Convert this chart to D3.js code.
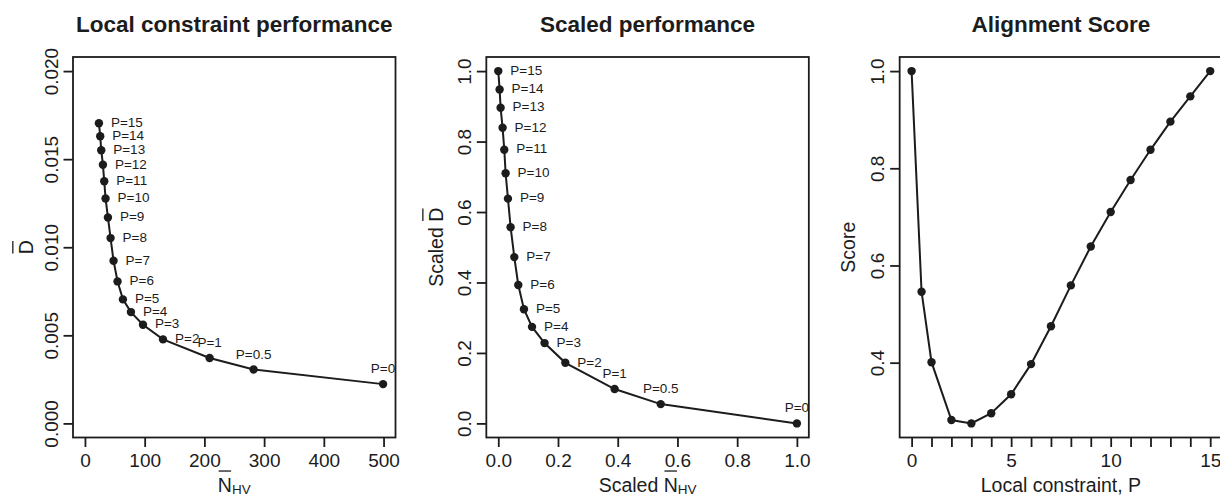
<!DOCTYPE html>
<html>
<head>
<meta charset="utf-8">
<script src="https://cdn.jsdelivr.net/npm/d3@7"></script>
<style>
  body { margin: 0; background: #fff; }
  svg { display: block; }
</style>
</head>
<body>
<svg id="chart" width="1220" height="496"></svg>
<script>
// point labels, in the order the points are drawn on the first two panels
const pLabels = ["P=15", "P=14", "P=13", "P=12", "P=11", "P=10", "P=9", "P=8", "P=7",
  "P=6", "P=5", "P=4", "P=3", "P=2", "P=1", "P=0.5", "P=0"];
const labelsAbove = ["P=1", "P=0.5", "P=0"];

// panel 1: raw values
const nhv = [23.4, 25.6, 27.3, 30.1, 32.3, 34.5, 38.5, 42.9, 47.9, 54.6, 63.6, 77.0, 97.2, 130.7, 208.7, 282.4, 499.2];
const dbar = [0.01704, 0.0163, 0.01551, 0.01468, 0.01375, 0.01277, 0.01169, 0.01052, 0.00923,
  0.00806, 0.00704, 0.00632, 0.0056, 0.00477, 0.00371, 0.00306, 0.00223];

// panel 2: scaled values
const scaledN = [0.0, 0.0045, 0.0078, 0.0145, 0.0201, 0.0246, 0.0324, 0.0413, 0.0537,
  0.067, 0.086, 0.113, 0.155, 0.2246, 0.3896, 0.544, 1.0];
const scaledD = [1.0, 0.948, 0.896, 0.839, 0.777, 0.710, 0.638, 0.557, 0.472,
  0.393, 0.324, 0.274, 0.228, 0.172, 0.0975, 0.0548, 0.0];

// panel 3: alignment score against P
const scoreP = [0, 0.5, 1, 2, 3, 4, 5, 6, 7, 8, 9, 10, 11, 12, 13, 14, 15];
const score = [1.0, 0.546, 0.401, 0.282, 0.275, 0.296, 0.335, 0.397, 0.475,
  0.559, 0.639, 0.710, 0.776, 0.838, 0.896, 0.948, 1.0];

// ticks
const x1Ticks = [0, 100, 200, 300, 400, 500];
const x1TickLabels = ["0", "100", "200", "300", "400", "500"];
const y1Ticks = [0, 0.005, 0.010, 0.015, 0.020];
const y1TickLabels = ["0.000", "0.005", "0.010", "0.015", "0.020"];
const x2Ticks = [0, 0.2, 0.4, 0.6, 0.8, 1.0];
const x2TickLabels = ["0.0", "0.2", "0.4", "0.6", "0.8", "1.0"];
const y2Ticks = [0, 0.2, 0.4, 0.6, 0.8, 1.0];
const y2TickLabels = ["0.0", "0.2", "0.4", "0.6", "0.8", "1.0"];
const x3Ticks = [0, 1, 2, 3, 4, 5, 6, 7, 8, 9, 10, 11, 12, 13, 14, 15];
const x3TickLabels = ["0", "", "", "", "", "5", "", "", "", "", "10", "", "", "", "", "15"];
const y3Ticks = [0.4, 0.6, 0.8, 1.0];
const y3TickLabels = ["0.4", "0.6", "0.8", "1.0"];

const font = '"Liberation Sans", Arial, Helvetica, sans-serif';
const ink = '#1c1c1c';
const tickSize = 19;
const labelSize = 19.5;

let box = { left: 73, right: 395.5, top: 57, bottom: 437.5 };
const panelStep = 413.33;

let svg = d3.select('#chart')
  .attr('font-family', font);

// R style axis limits: 4% padding on each side
function rLimits(lo, hi) {
  let pad = (hi - lo) * 0.04;
  return [lo - pad, hi + pad];
}

// axis title, with an optional bar over one letter and a subscript
function mathLabel(parent, x, y, angle, prefix, letter, sub) {
  let g = parent.append('g')
    .attr('transform', 'translate(' + x + ',' + y + ') rotate(' + angle + ')');
  let t = g.append('text')
    .attr('text-anchor', 'middle')
    .attr('font-size', labelSize)
    .attr('fill', ink);
  t.append('tspan').text(prefix + (letter || ''));
  if (sub) {
    t.append('tspan').attr('font-size', 13.5).attr('dy', 2).text(sub);
  }
  if (letter) {
    let ext = t.node().getExtentOfChar(prefix.length);
    let yBar = -labelSize * 0.716 - 6.5;
    g.append('line')
      .attr('x1', ext.x + 0.8)
      .attr('x2', ext.x + ext.width - 0.8)
      .attr('y1', yBar)
      .attr('y2', yBar)
      .attr('stroke', ink)
      .attr('stroke-width', 1.3);
  }
}

function drawPanel(i, spec) {
  let g = svg.append('g')
    .attr('transform', 'translate(' + (i * panelStep) + ',0)');

  let x = d3.scaleLinear().domain(spec.xLim).range([box.left, box.right]);
  let y = d3.scaleLinear().domain(spec.yLim).range([box.bottom, box.top]);

  g.append('defs').append('clipPath')
    .attr('id', 'clip' + i)
    .append('rect')
    .attr('x', box.left)
    .attr('y', box.top)
    .attr('width', box.right - box.left)
    .attr('height', box.bottom - box.top);

  // title
  g.append('text')
    .attr('x', (box.left + box.right) / 2)
    .attr('y', 31.7)
    .attr('text-anchor', 'middle')
    .attr('font-size', 22.5)
    .attr('font-weight', 'bold')
    .attr('fill', ink)
    .text(spec.title);

  // axes
  let xAxis = g.append('g')
    .attr('transform', 'translate(0,' + box.bottom + ')')
    .call(d3.axisBottom(x)
      .tickValues(spec.xTicks)
      .tickFormat(function (d, k) { return spec.xTickLabels[k]; })
      .tickSize(9.5)
      .tickPadding(7));

  let yAxis = g.append('g')
    .attr('transform', 'translate(' + box.left + ',0)')
    .call(d3.axisLeft(y)
      .tickValues(spec.yTicks)
      .tickFormat(function (d, k) { return spec.yTickLabels[k]; })
      .tickSize(9.5));

  [xAxis, yAxis].forEach(function (a) {
    a.attr('font-family', font).attr('font-size', tickSize);
    a.select('.domain').remove();
    a.selectAll('.tick line').attr('stroke', ink).attr('stroke-width', 1.8);
    a.selectAll('.tick text').attr('fill', ink);
  });

  yAxis.selectAll('.tick text')
    .attr('transform', 'rotate(-90)')
    .attr('x', 0)
    .attr('y', -15.5)
    .attr('dy', 0)
    .attr('text-anchor', 'middle');

  // plot box
  g.append('rect')
    .attr('x', box.left)
    .attr('y', box.top)
    .attr('width', box.right - box.left)
    .attr('height', box.bottom - box.top)
    .attr('fill', 'none')
    .attr('stroke', ink)
    .attr('stroke-width', 1.8);

  let pts = spec.xs.map(function (v, k) {
    return { x: v, y: spec.ys[k], label: spec.labels ? spec.labels[k] : null };
  });

  g.append('path')
    .datum(pts)
    .attr('fill', 'none')
    .attr('stroke', ink)
    .attr('stroke-width', 2)
    .attr('d', d3.line()
      .x(function (d) { return x(d.x); })
      .y(function (d) { return y(d.y); }));

  g.append('g')
    .selectAll('circle')
    .data(pts)
    .enter()
    .append('circle')
    .attr('cx', function (d) { return x(d.x); })
    .attr('cy', function (d) { return y(d.y); })
    .attr('r', 4.2)
    .attr('fill', ink);

  if (spec.labels) {
    g.append('g')
      .attr('clip-path', 'url(#clip' + i + ')')
      .selectAll('text')
      .data(pts)
      .enter()
      .append('text')
      .attr('font-size', 13.5)
      .attr('fill', ink)
      .each(function (d) {
        let t = d3.select(this);
        if (labelsAbove.indexOf(d.label) >= 0) {
          t.attr('x', x(d.x)).attr('y', y(d.y) - 11).attr('text-anchor', 'middle');
        } else {
          t.attr('x', x(d.x) + 12).attr('y', y(d.y) - 1).attr('dy', '0.35em').attr('text-anchor', 'start');
        }
      })
      .text(function (d) { return d.label; });
  }

  // axis titles
  let cx = (box.left + box.right) / 2;
  let cy = (box.top + box.bottom) / 2;
  mathLabel(g, cx, 491.5, 0, spec.xPrefix, spec.xLetter, spec.xSub);
  mathLabel(g, spec.yLabelX, cy, -90, spec.yPrefix, spec.yLetter, null);
}

drawPanel(0, {
  title: 'Local constraint performance',
  xs: nhv, ys: dbar, labels: pLabels,
  xLim: rLimits(0, 500), yLim: rLimits(0, 0.02),
  xTicks: x1Ticks, xTickLabels: x1TickLabels,
  yTicks: y1Ticks, yTickLabels: y1TickLabels,
  xPrefix: '', xLetter: 'N', xSub: 'HV',
  yPrefix: '', yLetter: 'D', yLabelX: 33.3
});

drawPanel(1, {
  title: 'Scaled performance',
  xs: scaledN, ys: scaledD, labels: pLabels,
  xLim: rLimits(0, 1), yLim: rLimits(0, 1),
  xTicks: x2Ticks, xTickLabels: x2TickLabels,
  yTicks: y2Ticks, yTickLabels: y2TickLabels,
  xPrefix: 'Scaled ', xLetter: 'N', xSub: 'HV',
  yPrefix: 'Scaled ', yLetter: 'D', yLabelX: 30
});

drawPanel(2, {
  title: 'Alignment Score',
  xs: scoreP, ys: score, labels: null,
  xLim: rLimits(d3.min(scoreP), d3.max(scoreP)), yLim: rLimits(d3.min(score), d3.max(score)),
  xTicks: x3Ticks, xTickLabels: x3TickLabels,
  yTicks: y3Ticks, yTickLabels: y3TickLabels,
  xPrefix: 'Local constraint, P', xLetter: null, xSub: null,
  yPrefix: 'Score', yLetter: null, yLabelX: 28.5
});
</script>
</body>
</html>
